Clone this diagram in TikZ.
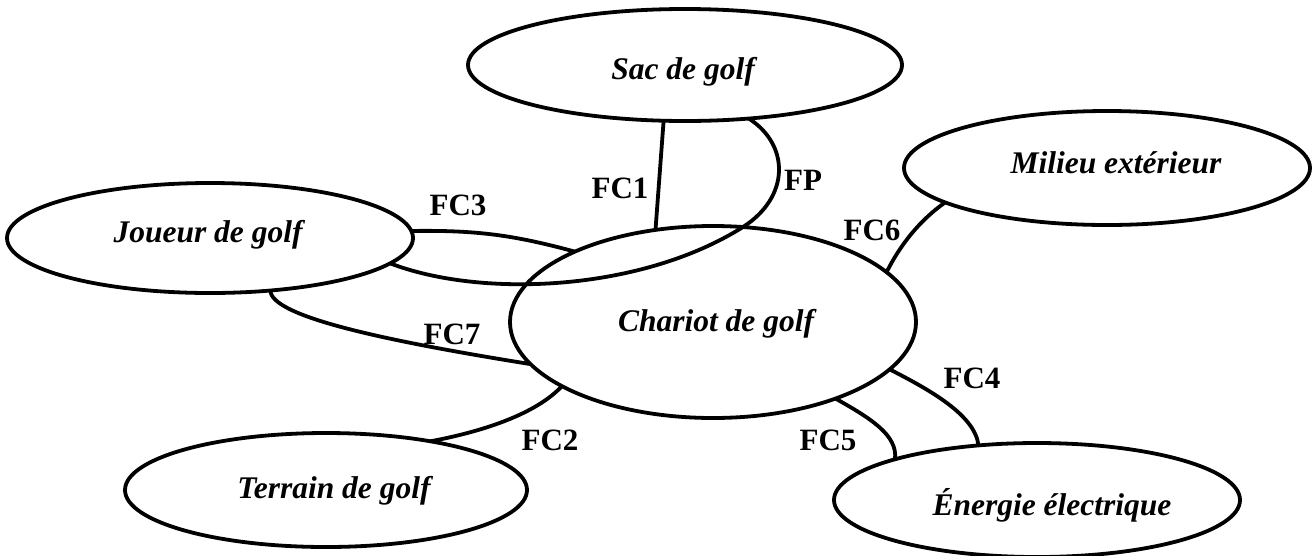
\documentclass[tikz,border=0pt]{standalone}
\usepackage{fontspec}
\setmainfont{Liberation Serif}
\usetikzlibrary{shapes.geometric}
\tikzset{
  ell/.style={ellipse, draw, line width=3.8pt, outer sep=0pt, inner sep=0pt},
  etxt/.style={anchor=base, inner sep=0pt, font=\fontsize{31.5}{36}\selectfont\bfseries\itshape},
  clab/.style={inner sep=0pt, font=\fontsize{31}{36}\selectfont\bfseries},
  conn/.style={line width=3.8pt}
}
\begin{document}
\begin{tikzpicture}[x=1pt, y=-1pt]
\useasboundingbox (0,0) rectangle (1313,555);
\fill[white] (0,0) rectangle (1313,555);
% ellipses
\node[ell, minimum width=434pt, minimum height=112pt] (sac) at (685,65) {};
\node[ell, minimum width=406pt, minimum height=114pt] (milieu) at (1107,168) {};
\node[ell, minimum width=406pt, minimum height=110pt] (joueur) at (210,238) {};
\node[ell, minimum width=406pt, minimum height=192pt] (chariot) at (713,322) {};
\node[ell, minimum width=402pt, minimum height=114pt] (terrain) at (326,490) {};
\node[ell, minimum width=406pt, minimum height=114pt] (energie) at (1037,500) {};
% texts
\node[etxt] (sac-t) at (683,79) {Sac de golf};
\node[etxt] (milieu-t) at (1116,173) {Milieu extérieur};
\node[etxt] (joueur-t) at (208,242) {Joueur de golf};
\node[etxt] (chariot-t) at (716,331) {Chariot de golf};
\node[etxt] (terrain-t) at (334,498) {Terrain de golf};
\node[etxt] (energie-t) at (1052,515) {Énergie électrique};
% connectors
\draw[conn] (sac.-111) -- (chariot.122);
\draw[conn] (joueur.-8.3) .. controls (480,298) and (640,292) .. (743,227)
            .. controls (790,197) and (790,145) .. (sac.-40);
\draw[conn] (joueur.2.8) to[bend left=8] (chariot.153.4);
\draw[conn] (joueur.-41) .. controls (271,316) and (380,340) .. (chariot.193);
\draw[conn] (terrain.25) .. controls (480,432) and (535,415) .. (chariot.203.3);
\draw[conn] (chariot.16.5) .. controls (900,245) and (920,220) .. (milieu.192.2);
\draw[conn] (chariot.-15) .. controls (930,390) and (975,415) .. (energie.137);
\draw[conn] (chariot.-32) .. controls (870,418) and (898,435) .. (energie.164);
% labels
\node[clab] (fc1) at (620,188) {FC1};
\node[clab] (fp) at (803,180) {FP};
\node[clab] (fc3) at (458,205) {FC3};
\node[clab] (fc6) at (872,230) {FC6};
\node[clab] (fc7) at (452,334) {FC7};
\node[clab] (fc2) at (550,440) {FC2};
\node[clab] (fc4) at (972,378) {FC4};
\node[clab] (fc5) at (828,440) {FC5};
\end{tikzpicture}
\end{document}
